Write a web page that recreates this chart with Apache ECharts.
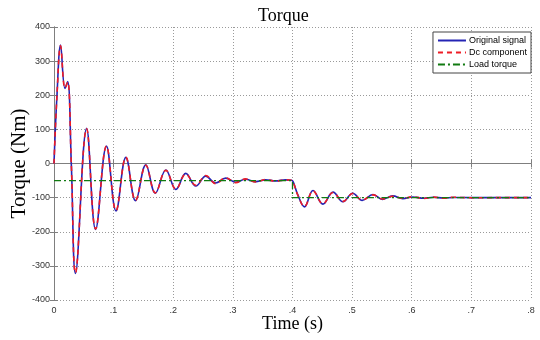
<!DOCTYPE html>
<html>
<head>
<meta charset="utf-8">
<script src="https://cdn.jsdelivr.net/npm/echarts@6/dist/echarts.min.js"></script>
<style>
  html, body { margin: 0; padding: 0; background: #fff; }
  #main { width: 540px; height: 340px; }
</style>
</head>
<body>
<div id="main"></div>
<script>
// time samples (s)
var time = [0, 0.005, 0.011, 0.0184, 0.023, 0.029, 0.036, 0.0547, 0.0698, 0.088,
  0.104, 0.1206, 0.1368, 0.154, 0.170, 0.1876, 0.2045, 0.221, 0.238, 0.2545,
  0.271, 0.288, 0.305, 0.321, 0.338, 0.355, 0.372, 0.388, 0.398, 0.401,
  0.409, 0.420, 0.4344, 0.451, 0.468, 0.4846, 0.501, 0.517, 0.535, 0.551,
  0.568, 0.585, 0.602, 0.620, 0.636, 0.653, 0.670, 0.700, 0.750, 0.800];
var originalSignal = [0, 200, 347, 220, 240, 0, -322, 103, -193, 51,
  -139, 18, -109, -4, -87, -19, -76, -29, -66, -37,
  -57, -43, -55, -46, -53, -48, -51, -48, -49, -53,
  -92, -127, -79, -119, -84, -112, -87, -108, -91, -105,
  -95, -103, -98, -102, -99, -101, -99.5, -100, -100, -100];
var dcComponent = [0, 200, 345, 221, 239, 0, -321, 102, -192, 51,
  -138, 18, -108, -5, -86, -20, -75, -31, -64, -35,
  -59, -42, -56, -45, -54, -47, -52, -48, -49, -54,
  -93, -126, -80, -118, -85, -111, -88, -107, -92, -104,
  -96, -102, -97.5, -102.5, -98.5, -101.5, -99, -100.5, -100, -100];
var loadTime = [0, 0.4, 0.4, 0.8];
var loadTorque = [-50, -50, -100, -100];
var xTickLabels = ["0", ".1", ".2", ".3", ".4", ".5", ".6", ".7", ".8"];

function pairs(xs, ys) {
  var out = [];
  for (var i = 0; i < xs.length; i++) out.push([xs[i], ys[i]]);
  return out;
}

var frame = "#7f7f7f";
var tickFont = { color: "#333", fontSize: 9, fontFamily: "Liberation Sans" };

var chart = echarts.init(document.getElementById("main"));
var option = {
  animation: false,
  backgroundColor: "#fff",
  title: {
    text: "Torque",
    left: 253,
    top: 2,
    textStyle: { fontFamily: "Liberation Serif", fontSize: 18, fontWeight: "normal", color: "#000" }
  },
  grid: { left: 54, right: 9, top: 27, bottom: 40, containLabel: false, outerBoundsMode: "none" },
  legend: {
    orient: "vertical",
    right: 9,
    top: 32,
    backgroundColor: "#fff",
    borderColor: "#444",
    borderWidth: 1,
    borderRadius: 0,
    padding: [4, 4, 4, 4],
    itemGap: 3,
    itemWidth: 28,
    itemHeight: 8,
    itemStyle: { opacity: 0 },
    textStyle: { fontSize: 9, fontFamily: "Liberation Sans", color: "#000", padding: [0, 0, 0, -2] },
    data: ["Original signal", "Dc component", "Load torque"]
  },
  xAxis: [
    {
      type: "value",
      min: 0,
      max: 0.8,
      interval: 0.1,
      name: "Time (s)",
      nameLocation: "middle",
      nameGap: 15,
      nameMoveOverlap: false,
      nameTextStyle: { fontFamily: "Liberation Serif", fontSize: 18, color: "#000" },
      axisLine: { show: true, lineStyle: { color: frame, width: 1 } },
      axisTick: { show: true, inside: true, length: 4, lineStyle: { color: frame } },
      axisLabel: Object.assign({
        margin: 6,
        formatter: function(v) { return xTickLabels[Math.round(v * 10)]; }
      }, tickFont),
      splitLine: { show: true, lineStyle: { color: "#9a9a9a", type: [1, 2], width: 1 } }
    },
    {
      type: "value",
      position: "top",
      min: 0,
      max: 0.8,
      interval: 0.1,
      axisLine: { show: true, lineStyle: { color: frame, width: 1 } },
      axisTick: { show: true, inside: true, length: 4, lineStyle: { color: frame } },
      axisLabel: { show: false },
      splitLine: { show: false }
    }
  ],
  yAxis: [
    {
      type: "value",
      min: -400,
      max: 400,
      interval: 100,
      name: "Torque (Nm)",
      nameLocation: "middle",
      nameGap: 24,
      nameMoveOverlap: false,
      nameTextStyle: { fontFamily: "Liberation Serif", fontSize: 21, color: "#000" },
      axisLine: { show: true, lineStyle: { color: frame, width: 1 } },
      axisTick: { show: true, inside: true, length: 4, lineStyle: { color: frame } },
      axisLabel: Object.assign({ margin: 4 }, tickFont),
      splitLine: { show: true, lineStyle: { color: "#9a9a9a", type: [1, 2], width: 1 } }
    },
    {
      type: "value",
      position: "right",
      min: -400,
      max: 400,
      interval: 100,
      axisLine: { show: true, lineStyle: { color: frame, width: 1 } },
      axisTick: { show: true, inside: true, length: 4, lineStyle: { color: frame } },
      axisLabel: { show: false },
      splitLine: { show: false }
    }
  ],
  series: [
    {
      name: "Original signal",
      type: "line",
      symbol: "none",
      smooth: 0.4,
      data: pairs(time, originalSignal),
      itemStyle: { color: "#2424b4" },
      lineStyle: { color: "#2424b4", width: 1.6 },
      z: 2
    },
    {
      name: "Dc component",
      type: "line",
      symbol: "none",
      smooth: 0.4,
      data: pairs(time, dcComponent),
      itemStyle: { color: "#ee1c25" },
      lineStyle: { color: "#ee1c25", width: 1.6, type: [5, 4] },
      z: 3
    },
    {
      name: "Load torque",
      type: "line",
      symbol: "none",
      data: pairs(loadTime, loadTorque),
      itemStyle: { color: "#117a11" },
      lineStyle: { color: "#117a11", width: 1.3, type: [7, 3, 2, 3] },
      z: 4
    }
  ]
};
chart.setOption(option);
</script>
</body>
</html>
